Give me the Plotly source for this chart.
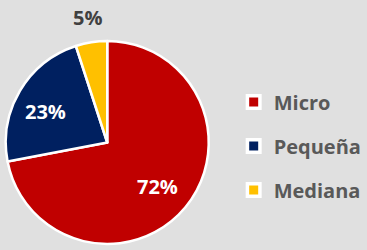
import plotly.graph_objects as go

labels = ["Micro", "Pequeña", "Mediana"]
values = [72, 23, 5]
colors = ["#C00000", "#002060", "#FFC000"]
label_colors = ["#FFFFFF", "#FFFFFF", "#404040"]
label_px = [(164, 186), (47, 112), (90.5, 17)]

W, H = 367, 250
fig = go.Figure()
fig.add_trace(go.Pie(
    labels=labels, values=values, sort=False, direction="clockwise", rotation=0,
    marker=dict(colors=colors, line=dict(color="#FFFFFF", width=2.5)),
    textinfo="none",
    domain=dict(x=[6/W, 217/W], y=[1-248/H, 1-37/H]),
    showlegend=False, hoverinfo="skip",
))
for i, lab in enumerate(labels):
    fig.add_trace(go.Scatter(
        x=[None], y=[None], mode="markers", name=lab, legendgroup=lab,
        marker=dict(symbol="square", size=12.5, color=colors[i], line=dict(color="#FFFFFF", width=3.5)),
    ))

for v, c, (px, py) in zip(values, label_colors, label_px):
    fig.add_annotation(text=f"{v / sum(values):.0%}", x=px/W, y=1-py/H, xref="paper", yref="paper",
                       xanchor="center", yanchor="middle", showarrow=False,
                       font=dict(family="Open Sans", size=20, color=c, weight="bold"))

fig.update_layout(
    width=W, height=H, margin=dict(l=0, r=0, t=0, b=0),
    paper_bgcolor="#E0E0E0", plot_bgcolor="#E0E0E0",
    xaxis=dict(visible=False), yaxis=dict(visible=False),
    legend=dict(x=0.662, y=1-146/H, xanchor="left", yanchor="middle", tracegroupgap=15,
                font=dict(family="Open Sans", size=20, color="#595959", weight="bold"),
                bgcolor="rgba(0,0,0,0)", itemwidth=30),
)
fig.write_html("out.html", config={"displayModeBar": False},
               post_script="document.body.style.margin='0';document.body.style.overflow='hidden';")
